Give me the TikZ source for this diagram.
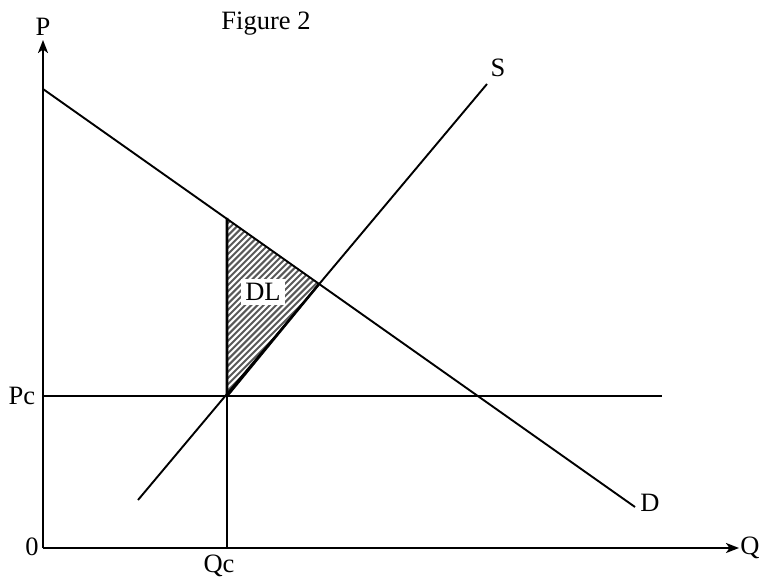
\documentclass[tikz,border=0pt]{standalone}
\usepackage{fontspec}
\setmainfont{Liberation Serif}
\usetikzlibrary{arrows.meta}
\begin{document}
\begin{tikzpicture}[x=1pt,y=-1pt,
  lbl/.style={font=\fontsize{26.5}{29}\selectfont, inner sep=1pt},
  curve/.style={line width=1.9pt},
  hatch/.style={line width=2pt, draw=black!65},
  axis/.style={line width=2.2pt,-{Stealth[length=13pt,width=10pt,inset=3.5pt]}}]
\useasboundingbox (0,0) rectangle (760,577);
% key points
\coordinate (O) at (43,548);
\coordinate (ytop) at (43,40);
\coordinate (xend) at (739,548);
\coordinate (d1) at (43,89);
\coordinate (d2) at (635,507);
\coordinate (s1) at (138,500);
\coordinate (s2) at (487,84);
\coordinate (pc1) at (43,396);
\coordinate (pc2) at (662,396);
\coordinate (qcb) at (227,548);
\coordinate (A) at (227,218);
\coordinate (B) at (227,396);
\coordinate (C) at (319,284);
% hatched triangle
\begin{scope}
  \clip (A) -- (B) -- (C) -- cycle;
  \foreach \k in {0,6.2,...,320} {
    \draw[hatch] (\k,420) -- (\k+220,200);
  }
\end{scope}
% lines
\draw[curve] (d1) -- (d2);
\draw[curve] (s1) -- (s2);
\draw[curve] (pc1) -- (pc2);
\draw[curve] (qcb) -- (A);
\draw[line width=2.6pt, line join=round] (A) -- (B) -- (C);
\draw[axis] (O) -- (ytop);
\draw[axis] (O) -- (xend);
% labels
\node[lbl] (P) at (43,27) {P};
\node[lbl] (Q) at (750,548) {Q};
\node[lbl] (zero) at (32,547) {0};
\node[lbl] (Qc) at (219,566) {Qc};
\node[lbl] (Pc) at (22,396) {Pc};
\node[lbl] (S) at (498,68) {S};
\node[lbl] (D) at (650,503) {D};
\node[lbl] (fig) at (266,24) {Figure 2};
\node[lbl, fill=white, inner sep=4pt] (DL) at (263,292) {DL};
\end{tikzpicture}
\end{document}
